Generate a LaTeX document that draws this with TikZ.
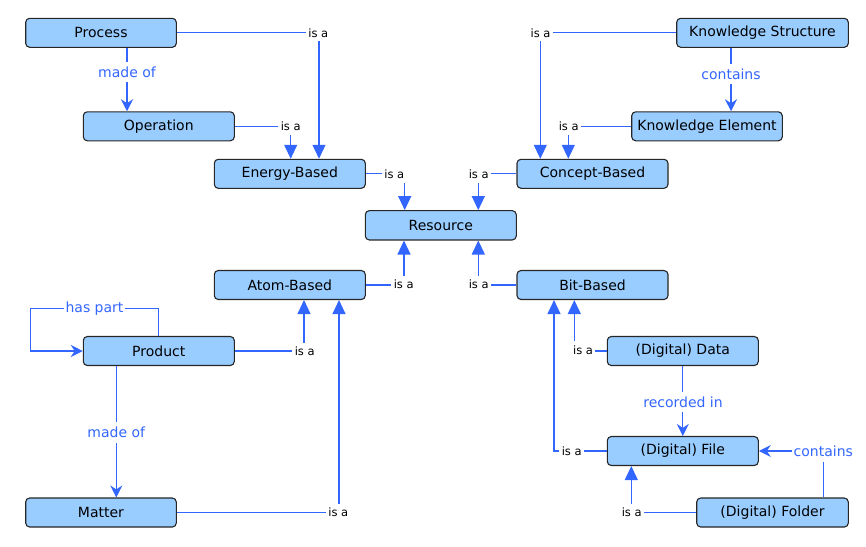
\documentclass[tikz,border=0pt]{standalone}
\usepackage{fontspec}
\setmainfont{DejaVu Sans}
\usetikzlibrary{arrows.meta}
\definecolor{cfill}{RGB}{153,204,255}
\definecolor{lblue}{RGB}{51,102,255}
\tikzset{
  concept/.style={draw=black!85, fill=cfill, rounded corners=4pt, line width=1.1pt,
    minimum width=151pt, minimum height=29pt, inner sep=0pt,
    font=\fontsize{14}{16}\selectfont},
  isa/.style={draw=lblue, line width=1.2pt, -{Triangle[length=14pt,width=13pt]}},
  rel/.style={draw=lblue, line width=1.2pt, -{Stealth[length=12pt,width=12pt,inset=4pt]}},
  isalbl/.style={fill=white, text=black, inner xsep=2.5pt, inner ysep=4pt,
    font=\fontsize{11.5}{13}\selectfont},
  rellbl/.style={fill=white, text=lblue, inner xsep=2pt, inner ysep=5pt,
    font=\fontsize{14}{16}\selectfont}
}
\begin{document}
\begin{tikzpicture}[x=1pt,y=-1pt]
\useasboundingbox (0,0) rectangle (866,546);
% nodes
\node[concept, minimum width=150.6pt] (proc) at (101,32.8) {Process};
\node[concept] (oper) at (158.8,126.3) {Operation};
\node[concept] (energy) at (289.8,173.8) {Energy-Based};
\node[concept, minimum height=29.3pt] (res) at (440.8,225.3) {Resource};
\node[concept] (concept) at (592.5,173.8) {Concept-Based};
\node[concept, minimum width=171.6pt] (ks) at (762.5,32.8) {Knowledge Structure};
\node[concept, minimum width=150.6pt] (ke) at (707,126.3) {Knowledge Element};
\node[concept] (atom) at (289.8,285) {Atom-Based};
\node[concept] (bit) at (592.5,285) {Bit-Based};
\node[concept] (prod) at (158.8,351) {Product};
\node[concept] (data) at (682.8,351) {(Digital) Data};
\node[concept] (file) at (682.8,451) {(Digital) File};
\node[concept, minimum width=150.6pt] (matter) at (101,512.5) {Matter};
\node[concept, minimum width=151.6pt] (folder) at (772.5,512.5) {(Digital) Folder};
\coordinate (hp) at (30.3,308.3);
% is-a connectors
\draw[isa] (proc.east) -| ([xshift=29.2pt]energy.north);
\node[isalbl] (l1) at (318.3,32.8) {is a};
\draw[isa] (oper.east) -| ([xshift=0.9pt]energy.north);
\node[isalbl] (l2) at (290.7,126.6) {is a};
\draw[isa] (energy.east) -| ([xshift=-36.1pt]res.north);
\node[isalbl] (l3) at (394.3,174.3) {is a};
\draw[isa] (ks.west) -| ([xshift=-52.2pt]concept.north);
\node[isalbl] (l4) at (540.5,32.8) {is a};
\draw[isa] (ke.west) -| ([xshift=-24.2pt]concept.north);
\node[isalbl] (l5) at (568.7,126.6) {is a};
\draw[isa] (concept.west) -| ([xshift=37.5pt]res.north);
\node[isalbl] (l6) at (478.7,174.3) {is a};
\draw[isa] (atom.east) -| ([xshift=-36.8pt]res.south);
\node[isalbl] (l7) at (403.7,284.3) {is a};
\draw[isa] (bit.west) -| ([xshift=37.5pt]res.south);
\node[isalbl] (l8) at (478.7,284.3) {is a};
\draw[isa] (prod.east) -| ([xshift=14.2pt]atom.south);
\node[isalbl] (l9) at (304.7,351.3) {is a};
\draw[isa] (matter.east) -| ([xshift=49.2pt]atom.south);
\node[isalbl] (l10) at (338.3,512.7) {is a};
\draw[isa] (data.west) -| ([xshift=-18.2pt]bit.south);
\node[isalbl] (l11) at (583,349.9) {is a};
\draw[isa] (file.west) -| ([xshift=-38.5pt]bit.south);
\node[isalbl] (l12) at (571.7,451.7) {is a};
\draw[isa] (folder.west) -| ([xshift=-51.5pt]file.south);
\node[isalbl] (l13) at (631.7,512.7) {is a};
% other relations
\draw[rel] ([xshift=26pt]proc.south) -- ([xshift=26pt]proc.south |- oper.north);
\node[rellbl] (r1) at (127,72) {made of};
\draw[rel] ([xshift=-31.5pt]ks.south) -- ([xshift=-31.5pt]ks.south |- ke.north);
\node[rellbl] (r2) at (731,74) {contains};
\draw[rel] ([xshift=-42.5pt]prod.south) -- ([xshift=-42.5pt]prod.south |- matter.north);
\node[rellbl] (r3) at (116.3,432.3) {made of};
\draw[rel] (prod.north) |- (hp) |- (prod.west);
\node[rellbl] (r4) at (94.5,308.3) {has part};
\draw[rel] (data.south) -- (file.north);
\node[rellbl] (r5) at (683,402) {recorded in};
\draw[rel] ([xshift=50.8pt]folder.north) |- (file.east);
\node[rellbl] (r6) at (823.3,451.7) {contains};
\end{tikzpicture}
\end{document}
